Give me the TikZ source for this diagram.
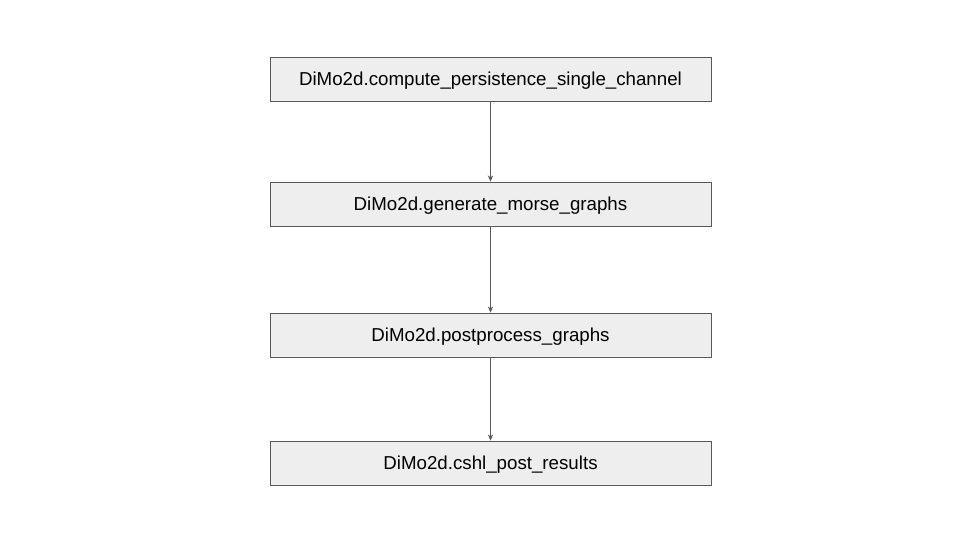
\documentclass[tikz,border=0pt]{standalone}
\usepackage{fontspec}
\usetikzlibrary{arrows.meta}
\setmainfont{Liberation Sans}
\definecolor{boxfill}{HTML}{EEEEEE}
\definecolor{boxline}{HTML}{595959}
\begin{document}
\begin{tikzpicture}
		\tikzset{stage/.style = {shape=rectangle, draw=boxline, fill=boxfill, line width=0.45pt,
			minimum width=8.82cm, minimum height=0.88cm, inner sep=0pt,
			text height=7.7pt, text depth=0.6pt,
			font=\fontsize{10.65}{12}\selectfont}}
		\tikzset{link/.style = {draw=boxline, line width=0.45pt, -{Stealth[length=3.5pt,width=3pt]}}}

		\useasboundingbox (0,0) rectangle (19.2,10.8);

		\node[stage] (S_1) at (9.81,9.22) {DiMo2d.compute\_persistence\_single\_channel};
		\node[stage] (S_2) at (9.81,6.72) {DiMo2d.generate\_morse\_graphs};
		\node[stage] (S_3) at (9.81,4.10) {DiMo2d.postprocess\_graphs};
		\node[stage] (S_4) at (9.81,1.54) {DiMo2d.cshl\_post\_results};



		\draw[link] (S_1)--(S_2);
		\draw[link] (S_2)--(S_3);
		\draw[link] (S_3)--(S_4);



	\end{tikzpicture}
\end{document}
